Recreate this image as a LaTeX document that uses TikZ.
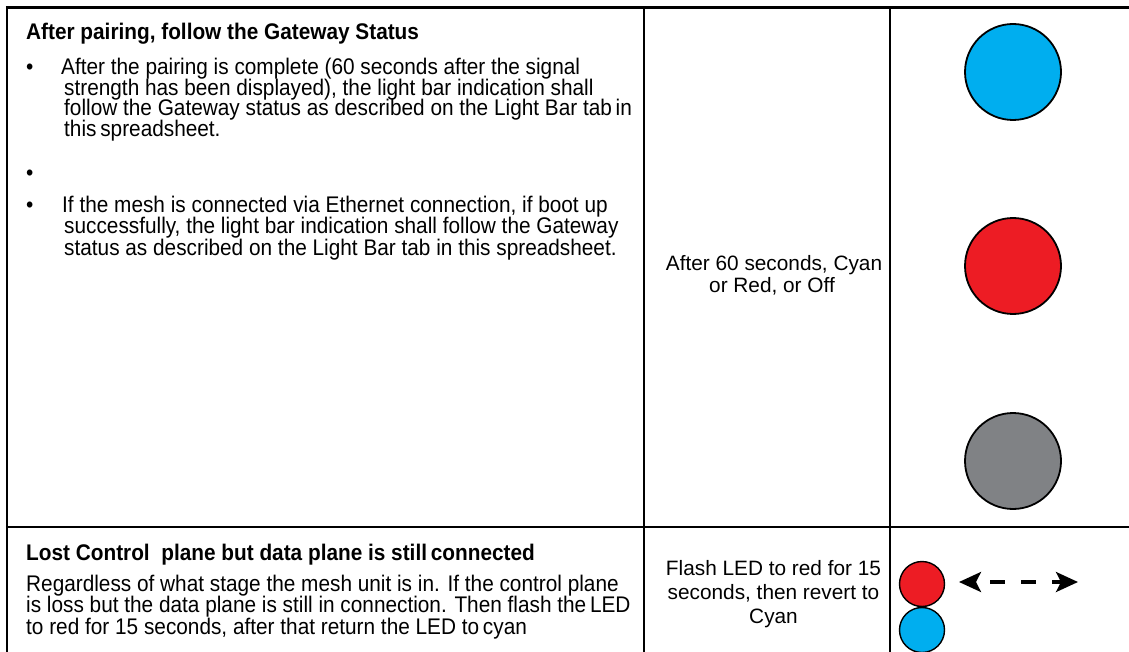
\documentclass[tikz,border=0pt]{standalone}
\usepackage{fontspec}
\setmainfont{Liberation Sans}
\newfontfamily\narrowfont{Liberation Sans}[FakeStretch=0.92]
\usetikzlibrary{arrows.meta}
\definecolor{ledcyan}{HTML}{00AEEF}
\definecolor{ledred}{HTML}{ED1C24}
\definecolor{ledgrey}{HTML}{808285}
\tikzset{
  txt/.style={anchor=base west, inner sep=0pt, font=\narrowfont\fontsize{22.6}{20.7}\selectfont},
  ttl/.style={txt, font=\narrowfont\fontsize{22.6}{20.7}\selectfont\bfseries},
  mid/.style={anchor=base, inner sep=0pt, font=\fontsize{20.8}{20.7}\selectfont},
  grid/.style={line width=2.2pt, black},
  led/.style={circle, draw=black, line width=1.8pt, minimum size=96pt, inner sep=0pt},
  smallled/.style={circle, draw=black, line width=1.4pt, minimum size=45pt, inner sep=0pt},
  flasharrow/.style={line width=3.2pt, {Stealth[length=22pt,width=20pt,inset=5pt]}-{Stealth[length=22pt,width=20pt,inset=5pt]}, dash pattern=on 15pt off 16pt, dash phase=16pt}
}
\begin{document}
\begin{tikzpicture}[x=1pt,y=-1pt]
\useasboundingbox (0,0) rectangle (1129,652);
% table rules
\draw[grid, line width=2.6pt] (5.9,7.5) -- (1129,7.5);
\draw[grid] (7,6.5) -- (7,652);
\draw[grid] (644,6.5) -- (644,652);
\draw[grid] (890,6.5) -- (890,652);
\draw[grid, line width=2.6pt] (5.9,527) -- (1129,527);

% top-left cell
\node[ttl] (t1) at (26,40) {After pairing, follow the Gateway Status};
\node[txt] (b1) at (26,75) {•};
\node[txt] (l1) at (61,75) {After the pairing is complete (60 seconds after the signal};
\node[txt] (l2) at (64,95.5) {strength has been displayed), the light bar indication shall};
\node[txt] (l3) at (64,116) {follow the Gateway status as described on the Light Bar tab\,in};
\node[txt] (l4) at (64,136.5) {this\,spreadsheet.};
\node[txt] (b2) at (26,181) {•};
\node[txt] (b3) at (26,213) {•};
\node[txt] (l5) at (62,213) {If the mesh is connected via Ethernet connection, if boot up};
\node[txt] (l6) at (64,234) {successfully, the light bar indication shall follow the Gateway};
\node[txt] (l7) at (64,255) {status as described on the Light Bar tab in this spreadsheet.};

% top-middle cell
\node[mid] (m1) at (774,271) {After 60 seconds, Cyan};
\node[mid] (m2) at (772,292) {or Red, or Off};

% top-right cell
\node[led, fill=ledcyan] (c1) at (1013,72) {};
\node[led, fill=ledred] (c2) at (1013,266) {};
\node[led, fill=ledgrey] (c3) at (1013,461) {};

% bottom-left cell
\node[ttl] (t2) at (26,560) {Lost Control\ \ plane but data plane is still\,connected};
\node[txt] (l8) at (26,591) {Regardless of what stage the mesh unit is in. If the control plane};
\node[txt] (l9) at (26,612.5) {is loss but the data plane is still in connection. Then flash the\,LED};
\node[txt] (l10) at (26,634) {to red for 15 seconds, after that return the LED to\,cyan};

% bottom-middle cell
\node[mid] (m3) at (773.5,575) {Flash LED to red for 15};
\node[mid] (m4) at (773.5,599) {seconds, then revert to};
\node[mid] (m5) at (773.5,623) {Cyan};

% bottom-right cell
\node[smallled, fill=ledred] (s1) at (922,584) {};
\node[smallled, fill=ledcyan] (s2) at (922,630) {};
\coordinate (aL) at (959,582);
\coordinate (aR) at (1078,582);
\draw[flasharrow] (aL) -- (aR);
\end{tikzpicture}
\end{document}
